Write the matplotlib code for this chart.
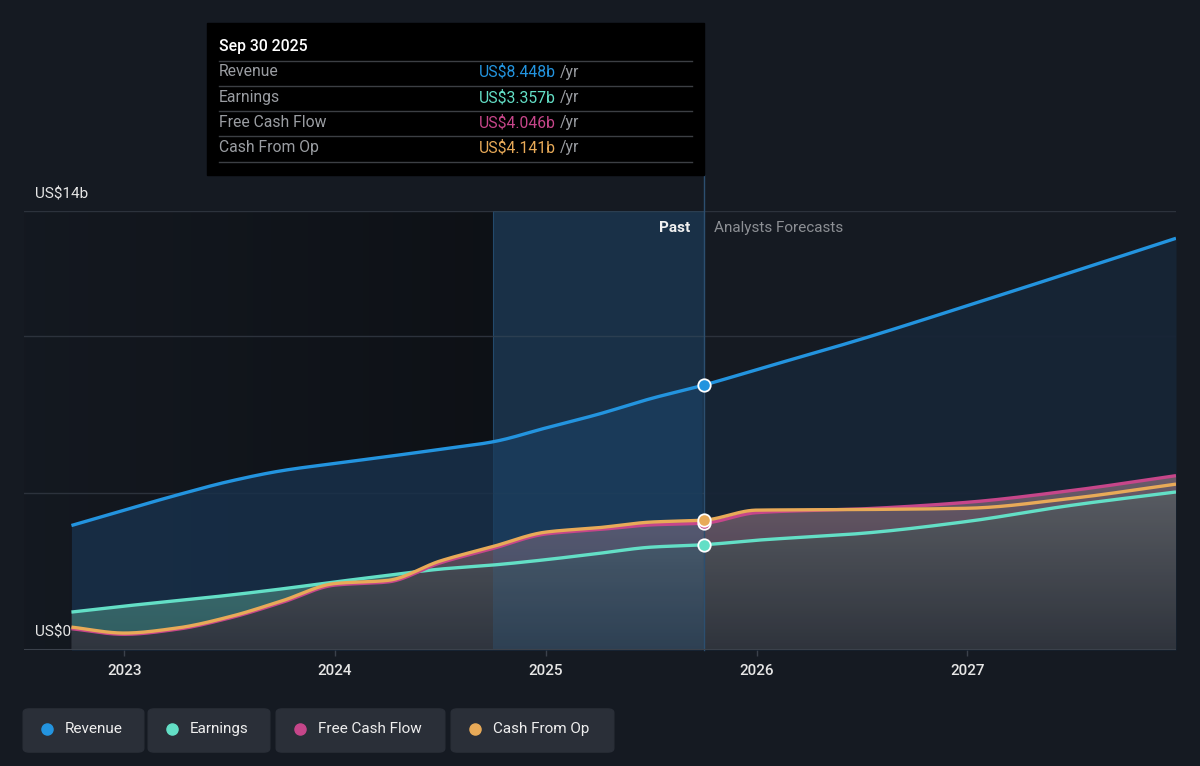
import numpy as np
import matplotlib.pyplot as plt
from matplotlib.patches import Rectangle, FancyBboxPatch
from matplotlib.lines import Line2D
from matplotlib.colors import LinearSegmentedColormap

plt.rcParams['font.family'] = ['Roboto', 'DejaVu Sans']

# quarterly trailing values (past) and analyst forecasts, US$ billions
past_t = [2022.75, 2023.0, 2023.25, 2023.5, 2023.75, 2024.0, 2024.25,
          2024.5, 2024.75, 2025.0, 2025.25, 2025.5, 2025.75]
rev_past = [3.97, 4.46, 4.94, 5.38, 5.72, 5.95, 6.17, 6.40, 6.64, 7.08, 7.52, 8.02, 8.448]
earn_past = [1.21, 1.40, 1.57, 1.75, 1.95, 2.17, 2.38, 2.58, 2.71, 2.88, 3.08, 3.28, 3.357]
fcf_past = [0.68, 0.50, 0.66, 1.02, 1.52, 2.07, 2.17, 2.78, 3.24, 3.70, 3.84, 3.99, 4.046]
cfo_past = [0.73, 0.54, 0.70, 1.06, 1.57, 2.12, 2.22, 2.84, 3.30, 3.76, 3.90, 4.08, 4.141]

fc_t = [2025.75, 2026.0, 2026.5, 2027.0, 2027.5, 2027.99]
rev_fc = [8.448, 8.94, 9.92, 10.98, 12.06, 13.13]
earn_fc = [3.357, 3.50, 3.72, 4.10, 4.62, 5.04]
fcf_fc = [4.046, 4.38, 4.50, 4.71, 5.09, 5.56]
cfo_fc = [4.141, 4.46, 4.48, 4.52, 4.84, 5.29]

years = [2023, 2024, 2025, 2026, 2027]
latest = 'Sep 30 2025'
latest_vals = ['US$8.448b', 'US$3.357b', 'US$4.046b', 'US$4.141b']
names = ['Revenue', 'Earnings', 'Free Cash Flow', 'Cash From Op']
colors = ['#2394df', '#63dfc6', '#c6468a', '#e8aa58']

BG = '#151a22'
X0, X1 = 2022.525, 2027.99
split = 2025.75
hl_start = 2024.75


def smooth(x, y, n=600):
    # monotone cubic curve for drawing (like d3 curveMonotoneX)
    x = np.asarray(x, float)
    y = np.asarray(y, float)
    h = np.diff(x)
    d = np.diff(y) / h
    m = np.zeros_like(y)
    m[0], m[-1] = d[0], d[-1]
    for i in range(1, len(y) - 1):
        if d[i - 1] * d[i] > 0:
            w1 = 2 * h[i] + h[i - 1]
            w2 = h[i] + 2 * h[i - 1]
            m[i] = (w1 + w2) / (w1 / d[i - 1] + w2 / d[i])
    xs = np.linspace(x[0], x[-1], n)
    k = np.clip(np.searchsorted(x, xs) - 1, 0, len(x) - 2)
    s = (xs - x[k]) / h[k]
    ys = ((2 * s**3 - 3 * s**2 + 1) * y[k] + (s**3 - 2 * s**2 + s) * h[k] * m[k]
          + (-2 * s**3 + 3 * s**2) * y[k + 1] + (s**3 - s**2) * h[k] * m[k + 1])
    return xs, ys


t_all = past_t + fc_t[1:]
series = [rev_past + rev_fc[1:], earn_past + earn_fc[1:],
          fcf_past + fcf_fc[1:], cfo_past + cfo_fc[1:]]
curves = [smooth(t_all, s) for s in series]
xs = curves[0][0]
rev_s, earn_s, fcf_s, cfo_s = [c[1] for c in curves]

fig = plt.figure(figsize=(12, 7.66), dpi=100, facecolor=BG)
ax = fig.add_axes([24 / 1200, 1 - 650 / 766, 1152 / 1200, 439 / 766])
ax.set_facecolor(BG)

# past region darkens towards the highlighted year
dark = LinearSegmentedColormap.from_list('d', [(0, 0, 0, 0.05), (0, 0, 0, 0.35)])
ax.imshow(np.linspace(0, 1, 256).reshape(1, -1), extent=[X0, hl_start, 0, 14],
          cmap=dark, aspect='auto', zorder=0)
ax.axvspan(hl_start, split, color='#1d5f95', alpha=0.13, lw=0, zorder=0.5)
ax.axvline(hl_start, color='#22405c', lw=0.8, zorder=1)

for g in [5, 10, 14]:
    ax.axhline(g, color='#2c323c', lw=1, zorder=1.5)
ax.axhline(0, color='#3b414b', lw=1.5, zorder=6)

# revenue area
past_mask = xs <= split + 1e-9
ax.fill_between(xs, 0, rev_s, where=past_mask, color='#18304a', alpha=0.85, lw=0, zorder=2)
ax.fill_between(xs, 0, rev_s, where=xs >= split, color='#172536', alpha=0.95, lw=0, zorder=2)

# lower area with vertical grey gradient
top_low = np.maximum.reduce([earn_s, fcf_s, cfo_s])
poly = ax.fill_between(xs, 0, top_low, color='none', lw=0, zorder=3)
cmap = LinearSegmentedColormap.from_list('g', ['#34373e', '#6a6b70'])
grad = np.linspace(0, 1, 256).reshape(-1, 1)
img = ax.imshow(grad, extent=[X0, X1, 0, 5.6], origin='lower', cmap=cmap,
                aspect='auto', alpha=0.85, zorder=3)
img.set_clip_path(poly.get_paths()[0], transform=ax.transData)

cash_top = np.maximum(fcf_s, cfo_s)
ax.fill_between(xs, earn_s, cash_top, where=cash_top > earn_s, color='#c6468a',
                alpha=0.12, lw=0, zorder=3.5, interpolate=True)
ax.fill_between(xs, cfo_s, earn_s, where=earn_s > cfo_s, color='#2fa8a0',
                alpha=0.35, lw=0, zorder=3.5, interpolate=True)
ax.axvspan(hl_start, split, color='#2a7fc0', alpha=0.16, lw=0, zorder=3.6)

for (cx, cy), c in zip(curves, colors):
    ax.plot(cx, cy, color=c, lw=2.4, zorder=5, solid_capstyle='butt')

for s, c in zip(series, colors):
    ax.scatter([split], [s[len(past_t) - 1]], s=80, color=c, edgecolor='white',
               linewidth=1.3, zorder=7)

# divider line up to tooltip
ax.plot([split, split], [0, (650 - 175) / 31.36], color='#2c4f70', lw=1,
        clip_on=False, zorder=4)

ax.set_xlim(X0, X1)
ax.set_ylim(0, 14)
ax.set_xticks(years)
ax.set_xticklabels([str(y) for y in years])
ax.tick_params(axis='x', colors='#3b414b', length=4, width=1, pad=6,
               labelcolor='#e6e6e6', labelsize=11)
for lab in ax.get_xticklabels():
    lab.set_fontweight('medium')
ax.set_yticks([])
for sp in ax.spines.values():
    sp.set_visible(False)


def fx(px):
    return px / 1200


def fy(py):
    return 1 - py / 766


fig.text(fx(35), fy(194), 'US$14b', color='#e6e6e6', fontsize=11, va='center')
fig.text(fx(35), fy(632), 'US$0', color='#e6e6e6', fontsize=11, va='center')
fig.text(fx(690), fy(228), 'Past', color='#f0f0f0', fontsize=11, fontweight='bold',
         ha='right', va='center')
fig.text(fx(714), fy(228), 'Analysts Forecasts', color='#8c8f94', fontsize=11,
         va='center')

# tooltip
fig.patches.append(Rectangle((fx(207), fy(175)), fx(497), 152 / 766,
                             transform=fig.transFigure, color='#000000', zorder=10))
fig.text(fx(219), fy(46), latest, color='white', fontsize=11.3, fontweight='medium',
         va='center', zorder=11)
for ly in [61, 86, 111, 136, 162]:
    fig.add_artist(Line2D([fx(219), fx(692)], [fy(ly), fy(ly)], color='#3c3f44',
                          lw=1, zorder=11))
for i, (n, v, c) in enumerate(zip(names, latest_vals, colors)):
    yy = fy(72 + i * 25.3)
    fig.text(fx(219), yy, n, color='#9a9da2', fontsize=11.3, va='center', zorder=11)
    t = fig.text(fx(479), yy, v, color=c, fontsize=11.3, va='center', zorder=11)
    fig.canvas.draw()
    bb = t.get_window_extent()
    fig.text(bb.x1 / 1200 + 0.003, yy, '/yr', color='#9a9da2', fontsize=11.3,
             va='center', zorder=11)

# legend chips
boxes = [(24, 143), (149, 269), (277, 444), (452, 613)]
for (x0, x1), n, c in zip(boxes, names, colors):
    fig.patches.append(FancyBboxPatch((fx(x0 + 4), fy(753 - 4)), fx(x1 - x0 - 8), 37 / 766,
                                      boxstyle='round,pad=0.004,rounding_size=0.005',
                                      transform=fig.transFigure, color='#2a2f38',
                                      zorder=1))
    fig.add_artist(Line2D([fx(x0 + 23)], [fy(729)], marker='o', markersize=8,
                          color=c, lw=0))
    fig.text(fx(x0 + 41), fy(729), n, color='#eeeeee', fontsize=11, va='center')

fig.savefig('out.png', dpi=100, facecolor=BG)
